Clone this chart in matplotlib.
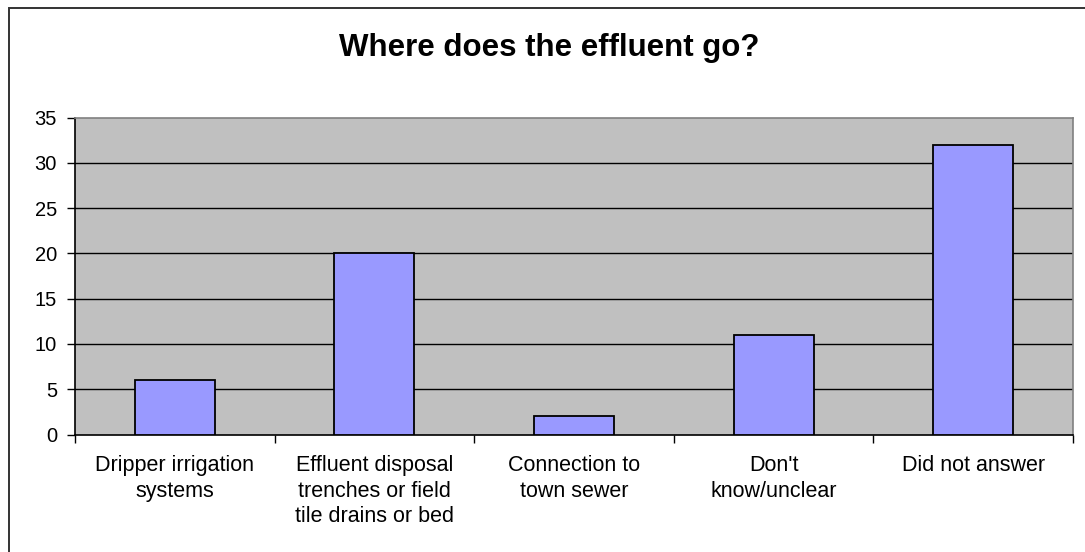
import matplotlib
matplotlib.use("Agg")
import matplotlib.pyplot as plt
from matplotlib.patches import Rectangle

categories = [
    "Dripper irrigation\nsystems",
    "Effluent disposal\ntrenches or field\ntile drains or bed",
    "Connection to\ntown sewer",
    "Don't\nknow/unclear",
    "Did not answer",
]
counts = [6, 20, 2, 11, 32]
y_ticks = [0, 5, 10, 15, 20, 25, 30, 35]
title = "Where does the effluent go?"

plt.rcParams["font.family"] = ["Liberation Sans", "DejaVu Sans"]

W, H = 1085, 552
fig = plt.figure(figsize=(W / 100, H / 100), dpi=100)
fig.patch.set_facecolor("white")

# chart frame (runs off the right and bottom edges)
fig.patches.append(Rectangle((8.5 / W, -0.1), 1.2, 1 - 7.5 / H + 0.1,
                             transform=fig.transFigure, fill=False,
                             edgecolor="#333333", linewidth=1.4))

ax = fig.add_axes([75 / W, 1 - 434.5 / H, (1073 - 75) / W, (434.5 - 117.5) / H])
ax.set_facecolor("#C0C0C0")

x = list(range(len(categories)))
ax.bar(x, counts, width=0.4, color="#9999FF", edgecolor="black", linewidth=1.3, zorder=3)

ax.set_xlim(-0.5, len(categories) - 0.5)
ax.set_ylim(0, 35)
ax.set_yticks(y_ticks)
ax.set_yticklabels([str(v) for v in y_ticks], fontsize=14.5)
for v in y_ticks[1:-1]:
    ax.axhline(v, color="black", linewidth=1.0, zorder=1)

# category labels centred, tick marks on category boundaries
ax.set_xticks(x)
ax.set_xticklabels(categories, fontsize=15.5, linespacing=1.27)
ax.tick_params(axis="x", length=0, pad=15)
ax.set_xticks([i - 0.5 for i in range(len(categories) + 1)], minor=True)
ax.tick_params(axis="x", which="minor", length=6, width=1, color="black", direction="out")
ax.tick_params(axis="y", length=6, width=1, color="black", direction="out", pad=7)

ax.spines["left"].set_color("black")
ax.spines["bottom"].set_color("black")
ax.spines["top"].set_color("#808080")
ax.spines["right"].set_color("#808080")
for s in ax.spines.values():
    s.set_linewidth(1.2)

fig.text(549 / W, 1 - 55.5 / H, title, ha="center", va="baseline",
         fontsize=22.5, fontweight="bold")

fig.savefig("out.png", dpi=100)
